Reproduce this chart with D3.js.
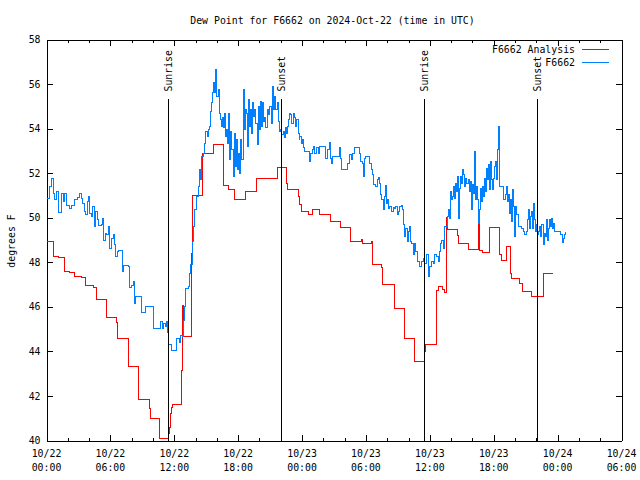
<!DOCTYPE html>
<html><head><meta charset="utf-8">
<script src="https://cdn.jsdelivr.net/npm/d3@7"></script>
<style>
body{margin:0;background:#fff}
svg text{font-family:"DejaVu Sans Mono","Liberation Mono",monospace;font-size:9.85px;fill:#000}
</style>
</head><body><svg id="c" width="640" height="480"></svg>
<script>
const title = "Dew Point for F6662 on 2024-Oct-22 (time in UTC)";
const yLabel = "degrees F";
const xMajorHours = [0, 6, 12, 18, 24, 30, 36, 42, 48, 54];
const xMinorHours = [2,4,8,10,14,16,20,22,26,28,32,34,38,40,44,46,50,52];
const xTickDates = ["10/22","10/22","10/22","10/22","10/23","10/23","10/23","10/23","10/24","10/24"];
const xTickTimes = ["00:00","06:00","12:00","18:00","00:00","06:00","12:00","18:00","00:00","06:00"];
const yTicks = [40, 42, 44, 46, 48, 50, 52, 54, 56, 58];
const sunNames = ["Sunrise", "Sunset", "Sunrise", "Sunset"];
const sunHours = [11.44, 22.03, 35.46, 46.07];
const sunLineTop = 55.35;
const seriesNames = ["F6662 Analysis", "F6662"];
const seriesColors = ["#ff0000", "#0080ff"];

// F6662 Analysis: [hours since 10/22 00:00 UTC, dew point F]
const analysisData = [
[0.0,48.93],[0.66,48.26],[1.16,48.2],[1.69,47.58],[2.19,47.55],[2.59,47.37],[3.29,47.32],[3.69,46.98],
[4.44,46.87],[4.71,46.33],[5.63,45.52],[6.58,45.28],[6.68,44.58],[7.66,43.98],[7.72,43.32],[8.6,42.6],
[8.67,41.83],[9.64,41.43],[9.72,40.98],[10.61,40.08],[11.45,40.3],[11.54,40.6],[11.61,41.2],[11.71,41.47],
[11.86,41.62],[12.68,43.15],[12.78,46.08],[12.86,44.68],[13.63,48.4],[13.69,51.0],[14.65,52.9],[15.66,53.3],
[16.59,52.33],[16.64,51.45],[17.06,51.27],[17.69,50.83],[18.71,51.18],[19.68,51.78],[20.66,51.75],[21.67,52.27],
[22.52,51.52],[22.67,51.28],[23.64,50.95],[23.79,50.58],[23.95,50.3],[24.61,50.15],[25.01,50.37],[25.61,50.15],
[26.66,49.83],[27.6,49.57],[28.58,48.95],[29.56,49.03],[29.7,48.85],[30.49,48.93],[30.59,47.92],[31.47,47.75],
[31.59,47.02],[32.67,45.93],[33.62,44.58],[34.6,43.55],[35.5,43.98],[35.63,44.3],[36.65,46.72],[36.79,46.9],
[37.22,46.78],[37.35,46.63],[37.55,50.02],[37.67,49.45],[38.62,49.18],[38.72,48.85],[39.64,48.58],[40.56,49.75],
[40.66,48.55],[40.96,48.45],[41.6,49.55],[42.57,48.33],[42.73,48.06],[43.2,48.73],[43.55,47.5],[43.7,47.28],
[44.45,47.05],[44.66,46.83],[44.74,46.7],[45.59,46.48],[46.69,47.5],[47.57,47.5]
];

// F6662 observations
const obsData = [
[0.0,50.88],[0.31,51.4],[0.47,51.78],[0.63,51.1],[0.78,50.8],[0.94,51.18],[1.1,50.23],[1.43,51.1],[1.56,50.73],
[1.72,51.1],[1.87,50.53],[2.19,50.43],[2.37,50.53],[2.66,50.8],[2.88,50.92],[3.07,51.1],[3.25,50.88],[3.38,50.65],
[3.54,50.27],[3.66,50.13],[3.82,50.73],[3.94,50.95],[4.07,50.2],[4.2,50.05],[4.31,50.5],[4.47,49.6],[4.59,50.28],
[4.75,49.9],[4.88,49.63],[5.13,49.68],[5.22,49.98],[5.38,49.0],[5.51,49.3],[5.63,49.23],[5.79,49.6],[5.95,48.63],
[6.1,49.08],[6.26,49.23],[6.38,48.78],[6.51,48.25],[6.64,48.48],[6.76,48.55],[7.11,47.58],[7.25,47.85],[7.66,47.8],
[7.76,46.87],[8.01,46.98],[8.13,47.13],[8.26,46.15],[8.39,46.45],[8.89,45.73],[9.33,46.03],[10.04,45.03],[10.7,45.33],
[10.89,45.03],[11.01,45.25],[11.17,45.1],[11.27,45.35],[11.39,44.83],[11.45,44.32],[11.77,44.05],[12.21,44.58],
[12.46,44.38],[12.59,44.73],[12.77,44.65],[12.9,45.4],[12.98,46.0],[13.08,46.83],[13.3,46.9],[13.45,47.5],[13.55,47.88],
[13.67,48.93],[13.83,49.6],[13.93,50.35],[14.08,50.95],[14.24,51.4],[14.33,52.15],[14.46,51.7],[14.55,52.75],[14.71,52.9],
[14.87,53.35],[14.96,53.88],[15.09,53.65],[15.18,53.95],[15.28,54.1],[15.4,54.78],[15.5,55.15],[15.59,55.6],[15.72,56.05],
[15.8,55.6],[15.89,56.65],[15.99,55.45],[16.11,55.75],[16.21,54.7],[16.33,54.4],[16.43,54.1],[16.52,54.48],[16.62,54.03],
[16.71,54.7],[16.81,53.65],[16.9,53.95],[16.99,53.35],[17.09,54.7],[17.21,52.6],[17.31,53.88],[17.4,53.05],[17.53,51.85],
[17.62,53.8],[17.72,52.3],[17.84,53.5],[17.92,52.15],[18.03,52.9],[18.16,52.0],[18.25,53.5],[18.34,52.6],[18.47,55.75],
[18.56,53.95],[18.66,54.85],[18.77,54.7],[18.84,53.2],[18.93,55.3],[19.03,54.1],[19.15,54.85],[19.25,53.8],[19.34,55.15],
[19.47,54.55],[19.56,54.85],[19.65,54.25],[19.78,53.28],[19.87,55.0],[19.97,53.95],[20.09,55.23],[20.19,54.1],[20.28,55.15],
[20.41,54.33],[20.5,54.48],[20.6,54.03],[20.72,54.85],[20.85,54.63],[20.97,55.0],[21.13,54.25],[21.22,55.9],[21.32,54.85],
[21.44,55.45],[21.53,54.85],[21.65,55.15],[21.75,54.33],[21.84,53.88],[21.97,53.95],[22.09,53.73],[22.22,53.88],[22.31,53.58],
[22.44,54.03],[22.53,53.8],[22.63,54.1],[22.72,54.4],[22.85,54.7],[22.94,54.63],[23.04,54.25],[23.16,54.7],[23.26,54.48],
[23.35,54.1],[23.48,54.4],[23.63,53.8],[23.73,53.5],[23.79,53.65],[23.95,53.35],[24.04,53.5],[24.17,53.13],[24.26,52.98],
[24.72,52.53],[24.82,52.9],[24.98,53.05],[25.1,53.2],[25.2,52.9],[25.35,53.13],[25.51,52.9],[25.6,53.2],[26.23,52.68],
[26.36,53.05],[26.55,53.38],[26.67,52.68],[26.77,52.45],[26.86,52.75],[27.54,53.13],[27.64,52.68],[27.7,52.18],[28.23,52.45],
[28.42,52.83],[28.64,52.6],[28.73,52.9],[28.89,53.13],[29.36,52.9],[29.49,52.53],[29.68,52.45],[29.8,51.85],[29.9,52.68],
[29.99,52.75],[30.36,52.45],[30.48,52.15],[30.61,51.93],[30.74,51.48],[30.92,51.4],[31.05,51.7],[31.14,51.82],[31.24,51.55],
[31.36,51.03],[31.46,50.8],[31.61,50.35],[31.71,50.95],[31.8,51.43],[31.93,50.65],[32.02,50.8],[32.12,50.43],[32.24,50.5],
[32.4,50.28],[32.56,50.47],[32.71,50.43],[32.81,50.5],[32.93,50.13],[33.05,50.28],[33.18,50.5],[33.33,50.53],[33.43,50.35],
[33.55,49.68],[33.65,49.15],[33.74,49.53],[33.87,48.93],[33.96,49.38],[34.05,49.6],[34.18,48.93],[34.27,48.85],[34.43,48.33],
[34.59,48.85],[34.68,48.48],[34.81,48.03],[35.0,47.95],[35.06,47.8],[35.21,48.03],[35.37,48.18],[35.53,47.95],[35.68,48.33],
[35.84,47.35],[36.0,47.8],[36.15,48.03],[36.31,47.95],[36.47,48.33],[36.62,48.25],[36.78,48.03],[36.87,48.48],[37.0,48.85],
[37.09,49.0],[37.25,48.63],[37.34,49.6],[37.62,50.05],[37.72,50.35],[37.81,49.98],[37.94,51.18],[38.03,50.8],[38.13,50.95],
[38.19,51.4],[38.28,50.88],[38.41,51.55],[38.5,51.18],[38.6,51.85],[38.72,49.98],[38.81,51.33],[38.91,51.85],[39.0,51.55],
[39.1,52.15],[39.19,51.93],[39.28,51.4],[39.38,51.78],[39.47,51.55],[39.6,51.7],[39.69,51.18],[39.78,51.63],[39.91,50.35],
[40.0,51.48],[40.1,51.1],[40.19,52.98],[40.29,50.8],[40.38,51.4],[40.47,50.8],[40.57,49.75],[40.66,50.35],[40.76,51.33],
[40.85,50.73],[40.94,51.4],[41.04,50.95],[41.13,51.78],[41.23,51.18],[41.32,52.23],[41.41,51.7],[41.51,52.38],[41.6,51.25],
[41.69,52.53],[41.79,51.7],[41.88,51.25],[41.98,51.78],[42.1,52.3],[42.2,52.53],[42.26,51.7],[42.32,53.05],[42.41,54.1],
[42.51,52.6],[42.57,51.4],[42.95,50.8],[43.07,51.03],[43.2,51.4],[43.29,50.73],[43.39,51.03],[43.51,50.2],[43.6,50.8],
[43.7,49.83],[43.79,51.25],[43.89,50.5],[43.98,49.15],[44.07,50.5],[44.17,50.13],[44.29,49.6],[44.61,49.53],[44.76,49.38],
[44.92,49.23],[45.07,49.38],[45.14,49.9],[45.23,50.35],[45.33,49.53],[45.45,50.05],[45.55,50.28],[45.64,49.53],[45.73,50.65],
[45.83,49.9],[45.92,49.38],[46.0,49.68],[46.11,49.23],[46.2,49.38],[46.33,49.6],[46.42,49.15],[46.52,49.68],[46.64,48.78],
[46.73,49.3],[46.83,49.15],[46.95,49.9],[47.05,49.0],[47.14,49.53],[47.27,49.9],[47.36,49.6],[47.45,49.98],[47.55,49.53],
[47.64,49.75],[47.74,49.38],[48.3,49.23],[48.43,48.88],[48.52,49.08],[48.61,49.23],[48.74,49.38]
];

const svg = d3.select("#c");
const x = d3.scaleLinear().domain([0, 54]).range([46.5, 621.5]);
const y = d3.scaleLinear().domain([40, 58]).range([440.5, 39.5]);

svg.append("rect").attr("width", 640).attr("height", 480).attr("fill", "#fff");

svg.append("defs").append("clipPath").attr("id", "clip")
  .append("rect").attr("x", x(0)).attr("y", y(58)).attr("width", x(54) - x(0)).attr("height", y(40) - y(58));

function styleAxis(g) {
  g.attr("font-family", null).attr("font-size", null);
  g.selectAll("path,line").attr("stroke", "#000").attr("shape-rendering", "crispEdges");
}

// bottom axis
svg.append("g").attr("transform", `translate(0,${y(40)})`)
  .call(d3.axisBottom(x).tickValues(xMajorHours).tickSize(-6).tickSizeOuter(0).tickFormat(""))
  .call(styleAxis);
svg.append("g").attr("transform", `translate(0,${y(40)})`)
  .call(d3.axisBottom(x).tickValues(xMinorHours).tickSize(-3).tickSizeOuter(0).tickFormat(""))
  .call(styleAxis).select(".domain").remove();
// top axis
svg.append("g").attr("transform", `translate(0,${y(58)})`)
  .call(d3.axisTop(x).tickValues(xMajorHours).tickSize(-6).tickSizeOuter(0).tickFormat(""))
  .call(styleAxis);
svg.append("g").attr("transform", `translate(0,${y(58)})`)
  .call(d3.axisTop(x).tickValues(xMinorHours).tickSize(-3).tickSizeOuter(0).tickFormat(""))
  .call(styleAxis).select(".domain").remove();
// left axis
svg.append("g").attr("transform", `translate(${x(0)},0)`)
  .call(d3.axisLeft(y).tickValues(yTicks).tickSize(-6).tickSizeOuter(0).tickPadding(6).tickFormat(d3.format("d")))
  .call(styleAxis);
// right axis
svg.append("g").attr("transform", `translate(${x(54)},0)`)
  .call(d3.axisRight(y).tickValues(yTicks).tickSize(-6).tickSizeOuter(0).tickFormat(""))
  .call(styleAxis);

// x tick labels (two lines)
const xl = svg.append("g");
xMajorHours.forEach((h, i) => {
  const t = xl.append("text").attr("text-anchor", "middle");
  t.append("tspan").attr("x", x(h)).attr("y", 456.5).text(xTickDates[i]);
  t.append("tspan").attr("x", x(h)).attr("y", 470.5).text(xTickTimes[i]);
});

// title & y label
svg.append("text").attr("x", 332.5).attr("y", 23.5).attr("text-anchor", "middle").text(title);
svg.append("text").attr("transform", "translate(14.5,241) rotate(-90)").attr("text-anchor", "middle").text(yLabel);

// data lines
const line = d3.line().x(d => x(d[0])).y(d => y(d[1])).curve(d3.curveStepAfter);
const plot = svg.append("g").attr("clip-path", "url(#clip)");
plot.append("path").datum(analysisData).attr("d", line).attr("fill", "none")
  .attr("stroke", seriesColors[0]).attr("stroke-width", 1).attr("shape-rendering", "crispEdges");
plot.append("path").datum(obsData).attr("d", line).attr("fill", "none")
  .attr("stroke", seriesColors[1]).attr("stroke-width", 1).attr("shape-rendering", "crispEdges");

// sunrise / sunset markers
sunHours.forEach((h, i) => {
  const sx = Math.round(x(h)) + 0.5;
  svg.append("line").attr("x1", sx).attr("x2", sx).attr("y1", y(sunLineTop)).attr("y2", y(40))
    .attr("stroke", "#000").attr("stroke-width", 1).attr("shape-rendering", "crispEdges");
  svg.append("text").attr("transform", `translate(${sx},${y(sunLineTop) - 7}) rotate(-90)`)
    .attr("dy", "0.35em").attr("text-anchor", "start").text(sunNames[i]);
});

// legend
seriesNames.forEach((n, i) => {
  const ly = 49.5 + i * 12.5;
  svg.append("text").attr("x", 575).attr("y", ly + 3.5).attr("text-anchor", "end").text(n);
  svg.append("line").attr("x1", 582).attr("x2", 609).attr("y1", ly).attr("y2", ly)
    .attr("stroke", seriesColors[i]).attr("stroke-width", 1).attr("shape-rendering", "crispEdges");
});
</script>
</body></html>
